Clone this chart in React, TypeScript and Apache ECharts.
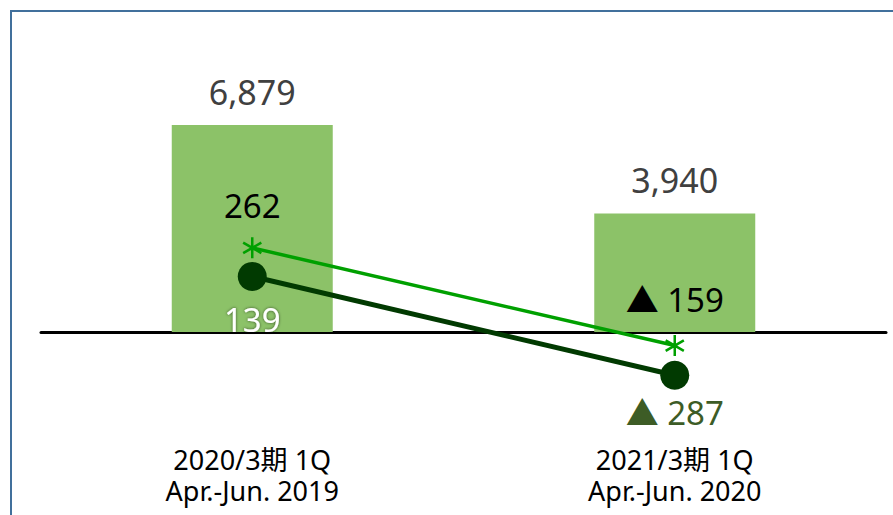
import React, { useEffect, useRef } from "react";
import * as echarts from "echarts";

const categories = ["2020/3期 1Q\nApr.-Jun. 2019", "2021/3期 1Q\nApr.-Jun. 2020"];
const barValues = [6879, 3940];
const starLineValues = [262, -159];
const circleLineValues = [139, -287];

const FONT = "'Noto Sans', 'Noto Sans CJK JP', sans-serif";

const fmt = (v: number) => {
  const s = Math.abs(v).toLocaleString("en-US");
  return v < 0 ? "▲ " + s : s;
};

const ASTERISK = "path://M0,-10L0,10M-8.66,-5L8.66,5M-8.66,5L8.66,-5";

export default function App() {
  const ref = useRef<HTMLDivElement>(null);
  useEffect(() => {
    if (!ref.current) return;
    const chart = echarts.init(ref.current, null, { renderer: "svg" });
    chart.setOption({
      animation: false,
      backgroundColor: "#ffffff",
      graphic: [
        {
          type: "rect",
          shape: { x: 11, y: 11, width: 1000, height: 1000 },
          style: { fill: "none", stroke: "#41709c", lineWidth: 2 },
          z: 100,
        },
      ],
      grid: { left: 41, right: 7, top: 30, bottom: 85, containLabel: false, outerBoundsMode: "none" },
      xAxis: {
        type: "category",
        data: categories,
        axisLine: { show: true, onZero: true, onZeroAxisIndex: 0, lineStyle: { color: "#000", width: 3 } },
        axisTick: { show: false },
        axisLabel: {
          margin: 14,
          fontSize: 27,
          lineHeight: 31,
          color: "#000",
          fontFamily: FONT,
        },
        z: 1,
      },
      yAxis: [
        { type: "value", min: -3257, max: 10037, show: false, splitLine: { show: false } },
        { type: "value", min: -523, max: 1201, show: false, splitLine: { show: false } },
      ],
      series: [
        {
          type: "bar",
          yAxisIndex: 0,
          data: barValues,
          barWidth: 161,
          itemStyle: { color: "#8cc268" },
          label: {
            show: true,
            position: "top",
            distance: 16,
            fontSize: 34,
            color: "#404040",
            fontFamily: FONT,
            formatter: (p: any) => fmt(p.value),
          },
          z: 2,
        },
        {
          type: "line",
          yAxisIndex: 1,
          data: circleLineValues.map((v, i) => ({
            value: v,
            label:
              i === 0
                ? {
                    position: "bottom",
                    distance: 12,
                    color: "#ffffff",
                    textShadowColor: "rgba(0,0,0,0.6)",
                    textShadowBlur: 3,
                  }
                : { position: "bottom", distance: 6, color: "#3d5c26" },
          })),
          symbol: "circle",
          symbolSize: 29,
          lineStyle: { color: "#013a01", width: 5 },
          itemStyle: { color: "#013a01" },
          label: {
            show: true,
            fontSize: 33,
            fontFamily: FONT,
            formatter: (p: any) => fmt(p.value),
          },
          z: 3,
        },
        {
          type: "line",
          yAxisIndex: 1,
          data: starLineValues.map((v, i) => ({
            value: v,
            label: i === 0 ? { position: "top", distance: 14 } : { position: "top", distance: 18 },
          })),
          symbol: ASTERISK,
          symbolSize: 21,
          symbolKeepAspect: true,
          lineStyle: { color: "#00a000", width: 3.5 },
          itemStyle: { color: "#00a000", borderColor: "#00a000", borderWidth: 2.5 },
          label: {
            show: true,
            fontSize: 33,
            color: "#000",
            fontFamily: FONT,
            formatter: (p: any) => fmt(p.value),
          },
          z: 4,
        },
      ],
    });
    return () => chart.dispose();
  }, []);
  return (
    <div
      ref={ref}
      style={{ position: "absolute", left: 0, top: 0, width: 893, height: 515 }}
    />
  );
}
